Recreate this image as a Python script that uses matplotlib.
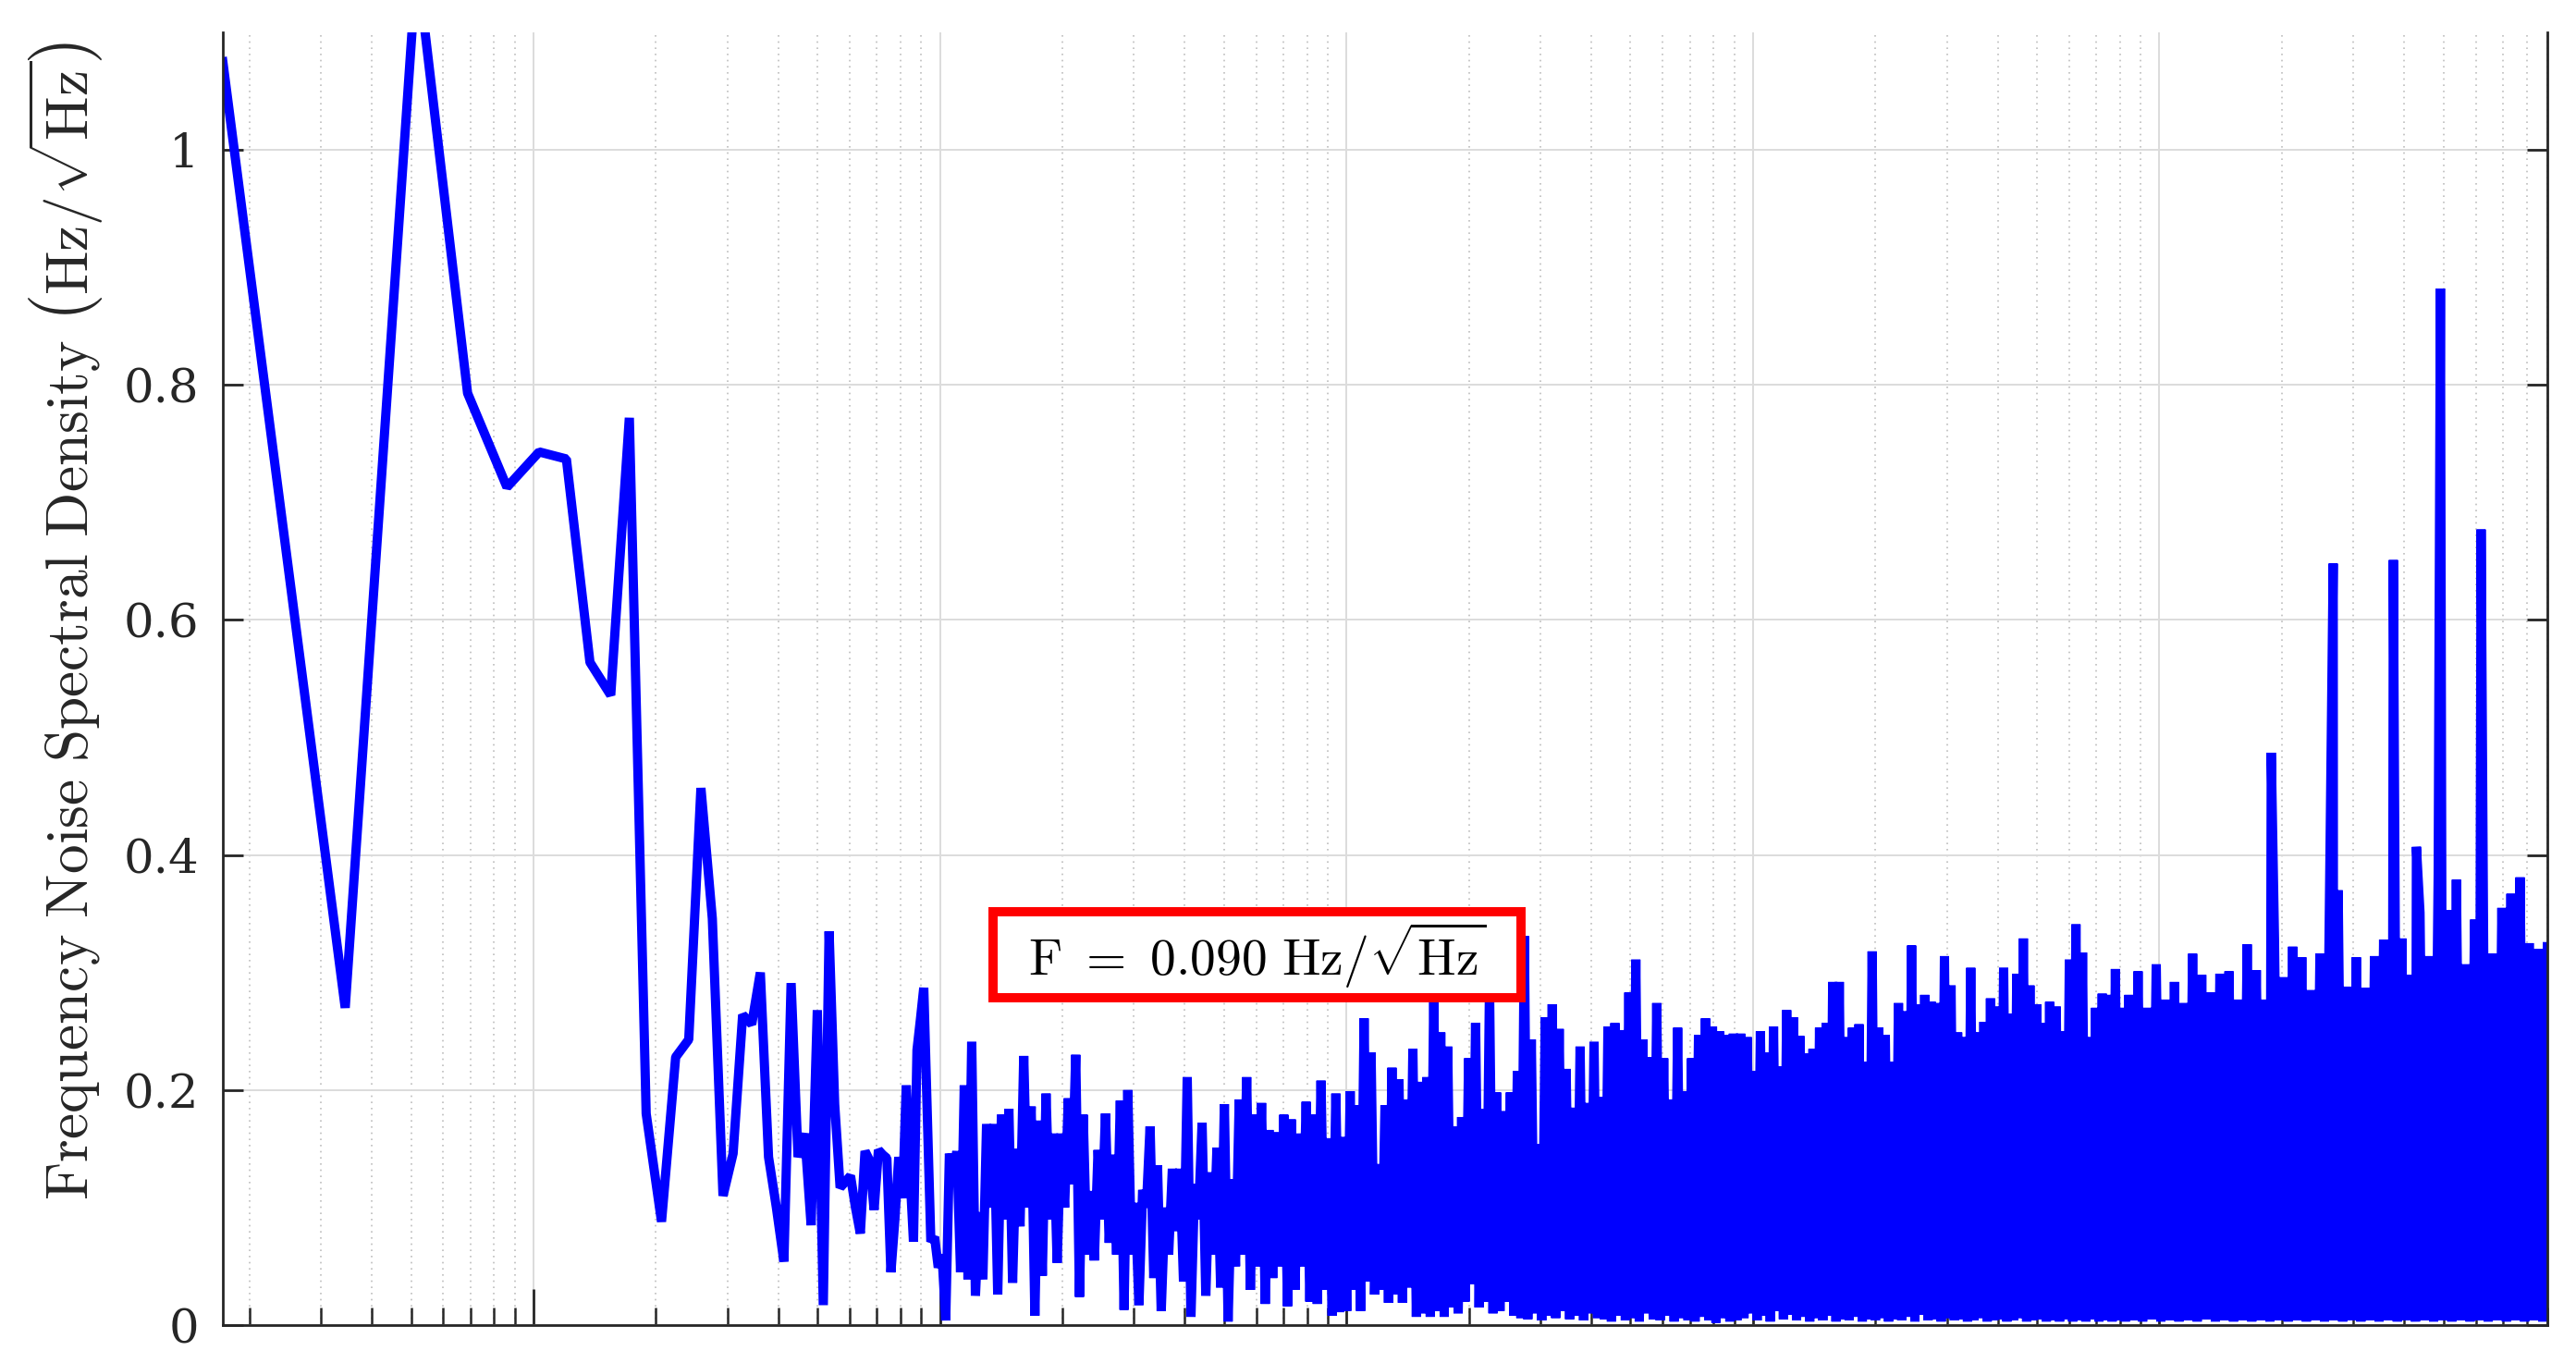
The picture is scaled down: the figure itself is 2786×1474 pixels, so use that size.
import numpy as np
import matplotlib
matplotlib.use('Agg')
import matplotlib.pyplot as plt
from matplotlib.patches import Rectangle
from matplotlib.ticker import LogLocator, FixedLocator, FuncFormatter, NullFormatter

plt.rcParams['mathtext.fontset'] = 'cm'

DF = 0.1722       # frequency resolution (Hz), first bin sits on the left edge
F_MAX = 9.0e4     # last bin, right edge of the axes

# low-frequency part: one value per FFT bin n = 1..53
psd_low = [1.075, 0.270, 1.160, 0.793, 0.713, 0.743, 0.737, 0.564, 0.536, 0.772,
           0.180, 0.088, 0.228, 0.243, 0.457, 0.346, 0.110, 0.146, 0.264, 0.256,
           0.300, 0.143, 0.100, 0.054, 0.291, 0.143, 0.163, 0.085, 0.268, 0.017,
           0.335, 0.188, 0.117, 0.122, 0.127, 0.100, 0.078, 0.148, 0.140, 0.098,
           0.149, 0.145, 0.142, 0.045, 0.090, 0.143, 0.108, 0.204, 0.130, 0.071,
           0.234, 0.260, 0.287]

# dense part: peak / trough pairs, per frequency span
band_edges = [(9.5, 96.2), (98.2, 913.0), (933.0, 8240.0), (8415.0, 9.0e4)]

band_1 = [0.071,
          0.075, 0.049, 0.060, 0.004, 0.146, 0.120, 0.148, 0.045, 0.204, 0.039,
          0.241, 0.025, 0.096, 0.039, 0.171, 0.100, 0.171, 0.026, 0.179, 0.090,
          0.184, 0.036, 0.150, 0.084, 0.229, 0.100, 0.186, 0.008, 0.174, 0.042,
          0.197, 0.090, 0.163, 0.053, 0.163, 0.100, 0.193, 0.120, 0.230, 0.024,
          0.179, 0.060, 0.114, 0.055, 0.149, 0.090, 0.180, 0.070, 0.145, 0.060,
          0.191, 0.013, 0.200, 0.060, 0.104, 0.017, 0.115, 0.100, 0.169, 0.040,
          0.136, 0.012, 0.100, 0.060, 0.133, 0.080, 0.133, 0.037, 0.211, 0.007,
          0.120, 0.090, 0.172, 0.025, 0.130, 0.060, 0.151, 0.032, 0.188, 0.003,
          0.124, 0.050, 0.192, 0.060, 0.211, 0.030, 0.179, 0.050, 0.189, 0.018,
          0.166, 0.040, 0.164, 0.050, 0.179, 0.016, 0.175, 0.030, 0.163, 0.050,
          0.190, 0.020, 0.179, 0.018, 0.208, 0.030, 0.159, 0.008, 0.197, 0.011]

band_2 = [0.160, 0.012, 0.199, 0.030, 0.187, 0.012, 0.261, 0.037, 0.232, 0.026,
          0.137, 0.030, 0.187, 0.019, 0.219, 0.026, 0.209, 0.019, 0.192, 0.032,
          0.235, 0.007, 0.207, 0.010, 0.211, 0.007, 0.282, 0.012, 0.249, 0.007,
          0.237, 0.015, 0.169, 0.010, 0.177, 0.020, 0.227, 0.035, 0.257, 0.015,
          0.184, 0.020, 0.290, 0.010, 0.198, 0.012, 0.182, 0.020, 0.198, 0.008,
          0.216, 0.006, 0.331, 0.005, 0.243, 0.010, 0.154, 0.004, 0.262, 0.008,
          0.273, 0.006, 0.252, 0.012, 0.218, 0.005, 0.185, 0.008, 0.237, 0.004,
          0.189, 0.010, 0.241, 0.006, 0.194, 0.005, 0.254, 0.003, 0.257, 0.008,
          0.251, 0.004, 0.283, 0.006, 0.311, 0.003, 0.243, 0.010, 0.228, 0.005,
          0.274, 0.004, 0.227, 0.008, 0.192, 0.003, 0.253, 0.006, 0.199, 0.004,
          0.227, 0.003, 0.247, 0.007, 0.261, 0.004, 0.254, 0.002, 0.250, 0.006,
          0.247, 0.003, 0.248, 0.004]

band_3 = [0.248, 0.006, 0.245, 0.010, 0.216, 0.004, 0.250, 0.008, 0.232, 0.003,
          0.254, 0.012, 0.220, 0.005, 0.268, 0.009, 0.262, 0.004, 0.246, 0.007,
          0.231, 0.003, 0.235, 0.006, 0.253, 0.004, 0.257, 0.008, 0.292, 0.003,
          0.292, 0.005, 0.245, 0.004, 0.253, 0.007, 0.256, 0.003, 0.224, 0.005,
          0.318, 0.004, 0.253, 0.006, 0.247, 0.003, 0.224, 0.005, 0.274, 0.004,
          0.267, 0.007, 0.323, 0.003, 0.273, 0.009, 0.281, 0.004, 0.275, 0.005,
          0.274, 0.003, 0.314, 0.006, 0.289, 0.004, 0.249, 0.005, 0.245, 0.003,
          0.304, 0.004, 0.249, 0.006, 0.258, 0.003, 0.278, 0.004, 0.271, 0.005,
          0.304, 0.003, 0.265, 0.004, 0.299, 0.006, 0.329, 0.003, 0.289, 0.004,
          0.273, 0.005, 0.257, 0.003, 0.275, 0.004, 0.271, 0.003, 0.250, 0.005,
          0.311, 0.003, 0.341, 0.004, 0.317, 0.003, 0.245, 0.005, 0.270, 0.003,
          0.282, 0.004, 0.281, 0.003, 0.303, 0.004, 0.270, 0.003]

band_4 = [0.281, 0.004, 0.301, 0.003, 0.270, 0.005, 0.307, 0.003, 0.277, 0.004,
          0.292, 0.003, 0.274, 0.004, 0.316, 0.003, 0.298, 0.005, 0.283, 0.003,
          0.299, 0.004, 0.301, 0.003, 0.277, 0.004, 0.324, 0.003, 0.302, 0.004,
          0.277, 0.003, 0.329, 0.004, 0.296, 0.003, 0.322, 0.004, 0.313, 0.003,
          0.285, 0.004, 0.316, 0.003, 0.329, 0.004, 0.370, 0.003, 0.288, 0.004,
          0.313, 0.003, 0.287, 0.004, 0.314, 0.003, 0.328, 0.004, 0.320, 0.003,
          0.329, 0.004, 0.298, 0.003, 0.351, 0.004, 0.314, 0.003, 0.384, 0.004,
          0.353, 0.003, 0.379, 0.004, 0.307, 0.003, 0.345, 0.004, 0.319, 0.003,
          0.316, 0.004, 0.355, 0.003, 0.367, 0.004, 0.381, 0.003, 0.325, 0.004,
          0.320, 0.003, 0.322]

# narrow lines at high frequency
spike_freq = [18840.0, 26760.0, 37620.0, 42870.0, 49120.0, 61850.0]
spike_psd = [0.487, 0.648, 0.651, 0.407, 0.882, 0.677]

ytick_vals = [0, 0.2, 0.4, 0.6, 0.8, 1.0]
annot_text = r'$\mathrm{F}\ =\ 0.090\ \mathrm{Hz}/\sqrt{\mathrm{Hz}}$'
ylabel_text = r'$\mathrm{Frequency\ Noise\ Spectral\ Density}\ \left(\mathrm{Hz}/\sqrt{\mathrm{Hz}}\right)$'

#----------------------------------------------------------
# assemble the spectrum
#----------------------------------------------------------
f_parts = [np.arange(1, len(psd_low) + 1) * DF]
p_parts = [np.array(psd_low)]
for (fa, fb), band in zip(band_edges, [band_1, band_2, band_3, band_4]):
    f_parts.append(np.geomspace(fa, fb, len(band)))
    p_parts.append(np.array(band))
f_parts.append(np.array(spike_freq))
p_parts.append(np.array(spike_psd))

freq = np.concatenate(f_parts)
psd = np.concatenate(p_parts)
order = np.argsort(freq, kind='stable')
freq = freq[order]
psd = psd[order]

#----------------------------------------------------------
# figure
#----------------------------------------------------------
W, H = 2786, 1474
DPI = 200
fig = plt.figure(figsize=(W / DPI, H / DPI), dpi=DPI)
ax = fig.add_axes([241 / W, 1 - 1433 / H, (2755 - 241) / W, (1433 - 35) / H])

ax.plot(freq, psd, color=(0, 0, 1), lw=3.6, solid_joinstyle='bevel')

ax.set_xscale('log')
ax.set_xlim(DF, F_MAX)
ax.set_ylim(0, 1.1)

dark = '#262626'
for side in ['left', 'bottom', 'right']:
    ax.spines[side].set_color(dark)
    ax.spines[side].set_linewidth(1.0)
ax.spines['top'].set_visible(False)

ax.xaxis.set_major_locator(LogLocator(base=10, numticks=20))
ax.xaxis.set_minor_locator(LogLocator(base=10, subs=np.arange(2, 10), numticks=50))
ax.xaxis.set_major_formatter(NullFormatter())
ax.xaxis.set_minor_formatter(NullFormatter())

ax.yaxis.set_major_locator(FixedLocator(ytick_vals))
ax.yaxis.set_major_formatter(FuncFormatter(lambda v, p: '%g' % v))

ax.tick_params(axis='x', which='major', direction='in', length=14, width=1.0, color=dark)
ax.tick_params(axis='x', which='minor', direction='in', length=7, width=0.9, color=dark)
ax.tick_params(axis='y', which='major', direction='in', length=8, width=1.0, color=dark,
               left=True, right=True, labelsize=18.5, labelcolor=dark, pad=9.4)
for lab in ax.get_yticklabels():
    lab.set_family('DejaVu Serif')

ax.grid(True, which='major', axis='both', color='#dcdcdc', lw=0.7)
ax.grid(True, which='minor', axis='x', color='#bdbdbd', lw=0.6, linestyle=(0, (1, 3)))
ax.set_axisbelow(True)

fig.text(71 / W, 1 - 672 / H, ylabel_text, rotation=90, ha='center', va='center',
         fontsize=22.8, color=dark)

# annotation box (figure coordinates)
box = Rectangle((1074 / W, 1 - 1079 / H), (1645 - 1074) / W, (1079 - 986) / H,
                transform=fig.transFigure, facecolor='white', edgecolor=(1, 0, 0),
                lw=3.6, zorder=5)
fig.patches.append(box)
fig.text(1360 / W, 1 - 1033 / H, annot_text, ha='center', va='center',
         fontsize=20, color='black', zorder=6)

fig.savefig('out.png', dpi=DPI)
